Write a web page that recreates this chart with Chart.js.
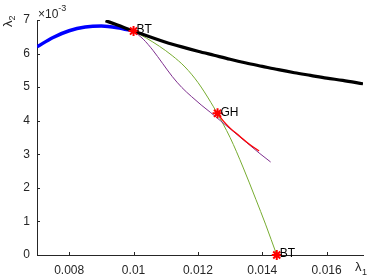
<!DOCTYPE html>
<html>
<head>
<meta charset="utf-8">
<script src="https://cdn.jsdelivr.net/npm/chart.js@4"></script>
<style>
html, body { margin: 0; padding: 0; background: #fff; }
#wrap { width: 370px; height: 277px; }
</style>
</head>
<body>
<div id="wrap"><canvas id="myChart" width="370" height="277"></canvas></div>
<script>
// axis ticks
var xTicks = [0.008, 0.01, 0.012, 0.014, 0.016];
var xTickLabels = ['0.008', '0.01', '0.012', '0.014', '0.016'];
var yTicks = [0, 1, 2, 3, 4, 5, 6, 7];

// lambda2 values are in units of 10^-3
var blackX = [0.00913, 0.0095, 0.0100, 0.0105, 0.0110, 0.0115, 0.0120, 0.0125, 0.0130, 0.0135, 0.0140, 0.0145, 0.0150, 0.0155, 0.0160, 0.0165, 0.01713];
var blackY = [6.98, 6.85, 6.67, 6.50, 6.34, 6.20, 6.07, 5.95, 5.83, 5.72, 5.62, 5.52, 5.43, 5.35, 5.27, 5.20, 5.10];

var blueX = [0.0070, 0.0075, 0.0080, 0.0085, 0.0090, 0.0095, 0.0100];
var blueY = [6.20, 6.48, 6.68, 6.79, 6.82, 6.77, 6.67];

var greenX = [0.0100, 0.0104, 0.0108, 0.0112, 0.0116, 0.0120, 0.0124, 0.01257, 0.0130, 0.0134, 0.0138, 0.0141, 0.01445];
var greenY = [6.67, 6.46, 6.22, 5.94, 5.60, 5.14, 4.55, 4.27, 3.50, 2.62, 1.66, 0.92, 0.00];

var purpleX = [0.0100, 0.0103, 0.0106, 0.0109, 0.0112, 0.0115, 0.0118, 0.0121, 0.0124, 0.0127, 0.0131, 0.0135, 0.0139, 0.01426];
var purpleY = [6.67, 6.43, 6.10, 5.71, 5.32, 4.99, 4.72, 4.47, 4.24, 4.00, 3.68, 3.36, 3.04, 2.77];

var redX = [0.01261, 0.0128, 0.0130, 0.0133, 0.0136, 0.0139];
var redY = [4.22, 3.98, 3.78, 3.54, 3.30, 3.10];

// special points
var ptX = [0.0100, 0.01261, 0.01445];
var ptY = [6.67, 4.22, 0.0];
var ptLabels = ['BT', 'GH', 'BT'];

var axisColor = '#262626';
var fontFamily = "'Liberation Sans', Arial, sans-serif";

function toPoints(xs, ys) {
  return xs.map((x, i) => ({ x: x, y: ys[i] }));
}

function lineSet(xs, ys, color, width) {
  return {
    data: toPoints(xs, ys),
    showLine: true,
    borderColor: color,
    borderWidth: width,
    pointRadius: 0,
    fill: false,
    cubicInterpolationMode: 'monotone'
  };
}

var extras = {
  id: 'extras',
  afterDraw(chart) {
    var ctx = chart.ctx;
    var xs = chart.scales.x, ys = chart.scales.y;
    var area = chart.chartArea;
    ctx.save();
    // inward tick marks
    ctx.strokeStyle = axisColor;
    ctx.lineWidth = 1;
    ctx.beginPath();
    xTicks.forEach(v => {
      var px = Math.round(xs.getPixelForValue(v)) + 0.5;
      ctx.moveTo(px, area.bottom);
      ctx.lineTo(px, area.bottom - 3);
    });
    yTicks.forEach(v => {
      var py = Math.round(ys.getPixelForValue(v)) + 0.5;
      ctx.moveTo(area.left, py);
      ctx.lineTo(area.left + 3, py);
    });
    ctx.stroke();

    // point labels
    ctx.fillStyle = '#000';
    ctx.font = '12px ' + fontFamily;
    ctx.textBaseline = 'middle';
    ctx.textAlign = 'left';
    ptLabels.forEach((t, i) => {
      ctx.fillText(t, xs.getPixelForValue(ptX[i]) + 3, ys.getPixelForValue(ptY[i]) - 1);
    });

    // exponent label
    ctx.fillStyle = axisColor;
    ctx.textBaseline = 'alphabetic';
    ctx.font = '12px ' + fontFamily;
    ctx.fillText('\u00d710', area.left + 1, 18);
    var w = ctx.measureText('\u00d710').width;
    ctx.font = '9px ' + fontFamily;
    ctx.fillText('-3', area.left + 1 + w, 11);

    // lambda1 label
    ctx.font = '13px ' + fontFamily;
    ctx.fillText('\u03bb', 355, 271);
    ctx.font = '9px ' + fontFamily;
    ctx.fillText('1', 362, 275);

    // lambda2 label (rotated)
    ctx.translate(12, 27);
    ctx.rotate(-Math.PI / 2);
    ctx.font = '13px ' + fontFamily;
    ctx.fillText('\u03bb', 0, 0);
    var lw = ctx.measureText('\u03bb').width;
    ctx.font = '9px ' + fontFamily;
    ctx.fillText('2', lw, 3);
    ctx.restore();
  }
};

var ctx = document.getElementById('myChart').getContext('2d');

var pointSet = {
  data: toPoints(ptX, ptY),
  showLine: false,
  pointStyle: 'star',
  pointRadius: 5,
  pointBorderColor: '#ff0000',
  pointBackgroundColor: '#ff0000',
  pointBorderWidth: 2,
  clip: false
};

var myChart = new Chart(ctx, {
  type: 'scatter',
  data: {
    datasets: [
      pointSet,
      lineSet(blackX, blackY, '#000000', 3.2),
      lineSet(blueX, blueY, '#0000ff', 3.5),
      lineSet(redX, redY, '#ff0000', 1.3),
      lineSet(purpleX, purpleY, '#7e2f8e', 1),
      lineSet(greenX, greenY, '#77ac30', 1)
    ]
  },
  options: {
    responsive: false,
    animation: false,
    devicePixelRatio: 1,
    layout: { padding: { top: 20, left: 0, right: 0, bottom: 0 } },
    plugins: {
      legend: { display: false },
      tooltip: { enabled: false }
    },
    scales: {
      x: {
        type: 'linear',
        min: 0.007,
        max: 0.01713,
        afterFit: s => { s.height = 22; },
        afterBuildTicks: s => { s.ticks = xTicks.map(v => ({ value: v })); },
        grid: { display: false, drawTicks: false },
        border: { display: true, color: axisColor, width: 1 },
        ticks: {
          padding: 8,
          color: axisColor,
          font: { family: fontFamily, size: 12 },
          maxRotation: 0,
          callback: v => xTickLabels[xTicks.indexOf(v)]
        }
      },
      y: {
        type: 'linear',
        min: 0,
        max: 7,
        afterFit: s => { s.width = 37; },
        afterBuildTicks: s => { s.ticks = yTicks.map(v => ({ value: v })); },
        grid: { display: false, drawTicks: false },
        border: { display: true, color: axisColor, width: 1 },
        ticks: {
          padding: 7,
          color: axisColor,
          font: { family: fontFamily, size: 12 },
          callback: v => String(v)
        }
      }
    }
  },
  plugins: [extras]
});
</script>
</body>
</html>
